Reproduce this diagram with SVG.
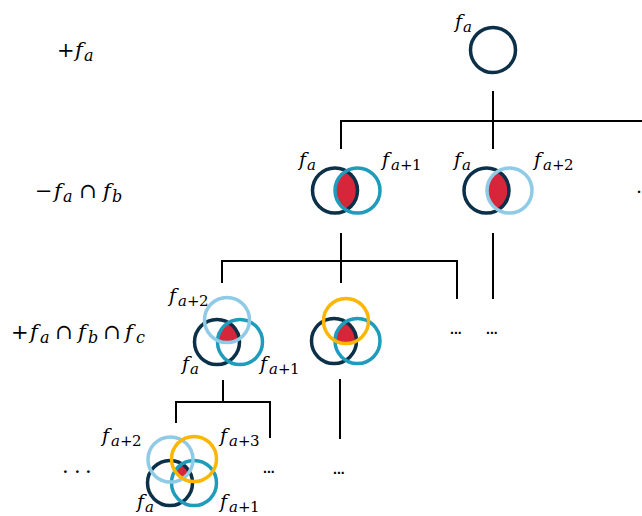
<svg xmlns="http://www.w3.org/2000/svg" width="642" height="516" viewBox="0 0 642 516">
<style>
.m{font-family:'DejaVu Serif','Liberation Serif',serif;font-style:italic;font-size:19px;fill:#000}
.r{font-size:21px}
.up{font-style:normal}
.s{font-size:15px}
.rs{font-size:16px}
.p{font-size:15px;font-style:normal}
.dots{font-family:'Liberation Sans',Arial,sans-serif;font-weight:bold;font-size:14px;fill:#000}
.c{fill:none;stroke-width:3.5}
.dk{stroke:#0B3048}
.tl{stroke:#1F9BBB}
.lb{stroke:#8FCAE6}
.yl{stroke:#FDB604}
.red{fill:#D7263A}
.ln{stroke:#000;stroke-width:2;fill:none}
</style>
<defs>
<clipPath id="k2a"><circle cx="357.5" cy="190.5" r="22.5"/></clipPath>
<clipPath id="k2b"><circle cx="509.5" cy="190.5" r="22.5"/></clipPath>
<clipPath id="k3a1"><circle cx="240" cy="342" r="22.5"/></clipPath>
<clipPath id="k3a2"><circle cx="227" cy="320" r="22.5"/></clipPath>
<clipPath id="k3b1"><circle cx="357.5" cy="341" r="22.5"/></clipPath>
<clipPath id="k3b2"><circle cx="346" cy="321" r="22.5"/></clipPath>
<clipPath id="k4a"><circle cx="194" cy="483" r="22.5"/></clipPath>
<clipPath id="k4b"><circle cx="170.5" cy="459.5" r="22.5"/></clipPath>
<clipPath id="k4c"><circle cx="194" cy="459" r="22.5"/></clipPath>
</defs>

<g id="connectors">
<path class="ln" d="M493 91V121M341 149V121H642M493 121V149"/>
<path class="ln" d="M341 233V283M222 283V261H457V299M493 233V299"/>
<path class="ln" d="M223 380V402M176 423V402H270V438M340 379V439"/>
</g>

<g id="row-labels">
<text class="m r" y="57"><tspan class="up" x="57">+</tspan><tspan x="75">f</tspan><tspan class="rs" x="84" dy="4">a</tspan></text>
<text class="m r" y="198"><tspan class="up" x="35">−</tspan><tspan x="54">f</tspan><tspan class="rs" x="63" dy="4">a</tspan><tspan class="up" x="79" dy="-4">∩</tspan><tspan x="103">f</tspan><tspan class="rs" x="112" dy="4">b</tspan></text>
<text class="m r" y="339"><tspan class="up" x="11">+</tspan><tspan x="30">f</tspan><tspan class="rs" x="40" dy="4">a</tspan><tspan class="up" x="55" dy="-4">∩</tspan><tspan x="78">f</tspan><tspan class="rs" x="88" dy="4">b</tspan><tspan class="up" x="103" dy="-4">∩</tspan><tspan x="125">f</tspan><tspan class="rs" x="136" dy="4">c</tspan></text>
<text class="m r up" x="62 74 85" y="473">...</text>
</g>

<g id="n-root">
<circle class="c dk" cx="493" cy="50" r="22.5"/>
<text class="m" y="28"><tspan x="455">f</tspan><tspan class="s" x="463" dy="4">a</tspan></text>
</g>

<g id="n-2a">
<g clip-path="url(#k2a)"><circle class="red" cx="335" cy="190.5" r="22.5"/></g>
<circle class="c dk" cx="335" cy="190.5" r="22.5"/>
<circle class="c tl" cx="357.5" cy="190.5" r="22.5"/>
<text class="m" y="166"><tspan x="299">f</tspan><tspan class="s" x="307" dy="4">a</tspan></text>
<text class="m" y="166"><tspan x="382">f</tspan><tspan class="s" x="391" dy="4">a</tspan><tspan class="p" x="400">+</tspan><tspan class="s up" x="412">1</tspan></text>
</g>

<g id="n-2b">
<g clip-path="url(#k2b)"><circle class="red" cx="486.5" cy="190.5" r="22.5"/></g>
<circle class="c dk" cx="486.5" cy="190.5" r="22.5"/>
<circle class="c lb" cx="509.5" cy="190.5" r="22.5"/>
<text class="m" y="166"><tspan x="454">f</tspan><tspan class="s" x="462" dy="4">a</tspan></text>
<text class="m" y="166"><tspan x="534">f</tspan><tspan class="s" x="543" dy="4">a</tspan><tspan class="p" x="552">+</tspan><tspan class="s up" x="564">2</tspan></text>
</g>

<g id="n-2c">
<text class="m up" x="636" y="193">.</text>
</g>

<g id="n-3a">
<g clip-path="url(#k3a1)"><g clip-path="url(#k3a2)"><circle class="red" cx="217" cy="342" r="22.5"/></g></g>
<circle class="c dk" cx="217" cy="342" r="22.5"/>
<circle class="c tl" cx="240" cy="342" r="22.5"/>
<circle class="c lb" cx="227" cy="320" r="22.5"/>
<text class="m" y="302"><tspan x="169">f</tspan><tspan class="s" x="178" dy="4">a</tspan><tspan class="p" x="187">+</tspan><tspan class="s up" x="199">2</tspan></text>
<text class="m" y="370"><tspan x="182">f</tspan><tspan class="s" x="190" dy="4">a</tspan></text>
<text class="m" y="370"><tspan x="260">f</tspan><tspan class="s" x="269" dy="4">a</tspan><tspan class="p" x="278">+</tspan><tspan class="s up" x="290">1</tspan></text>
</g>

<g id="n-3b">
<g clip-path="url(#k3b1)"><g clip-path="url(#k3b2)"><circle class="red" cx="334" cy="341" r="22.5"/></g></g>
<circle class="c dk" cx="334" cy="341" r="22.5"/>
<circle class="c tl" cx="357.5" cy="341" r="22.5"/>
<circle class="c yl" cx="346" cy="321" r="22.5"/>
</g>

<g id="n-3c"><text class="dots" x="450" y="334">...</text></g>
<g id="n-3d"><text class="dots" x="486" y="334">...</text></g>

<g id="n-4a">
<g clip-path="url(#k4a)"><g clip-path="url(#k4b)"><g clip-path="url(#k4c)"><circle class="red" cx="170" cy="483" r="22.5"/></g></g></g>
<circle class="c dk" cx="170" cy="483" r="22.5"/>
<circle class="c tl" cx="194" cy="483" r="22.5"/>
<circle class="c lb" cx="170.5" cy="459.5" r="22.5"/>
<circle class="c yl" cx="194" cy="459" r="22.5"/>
<text class="m" y="442"><tspan x="102">f</tspan><tspan class="s" x="111" dy="4">a</tspan><tspan class="p" x="120">+</tspan><tspan class="s up" x="132">2</tspan></text>
<text class="m" y="442"><tspan x="220">f</tspan><tspan class="s" x="229" dy="4">a</tspan><tspan class="p" x="238">+</tspan><tspan class="s up" x="250">3</tspan></text>
<text class="m" y="508"><tspan x="137">f</tspan><tspan class="s" x="145" dy="4">a</tspan></text>
<text class="m" y="508"><tspan x="220">f</tspan><tspan class="s" x="229" dy="4">a</tspan><tspan class="p" x="238">+</tspan><tspan class="s up" x="250">1</tspan></text>
</g>

<g id="n-4b"><text class="dots" x="263" y="473">...</text></g>
<g id="n-4c"><text class="dots" x="333" y="474">...</text></g>
</svg>
